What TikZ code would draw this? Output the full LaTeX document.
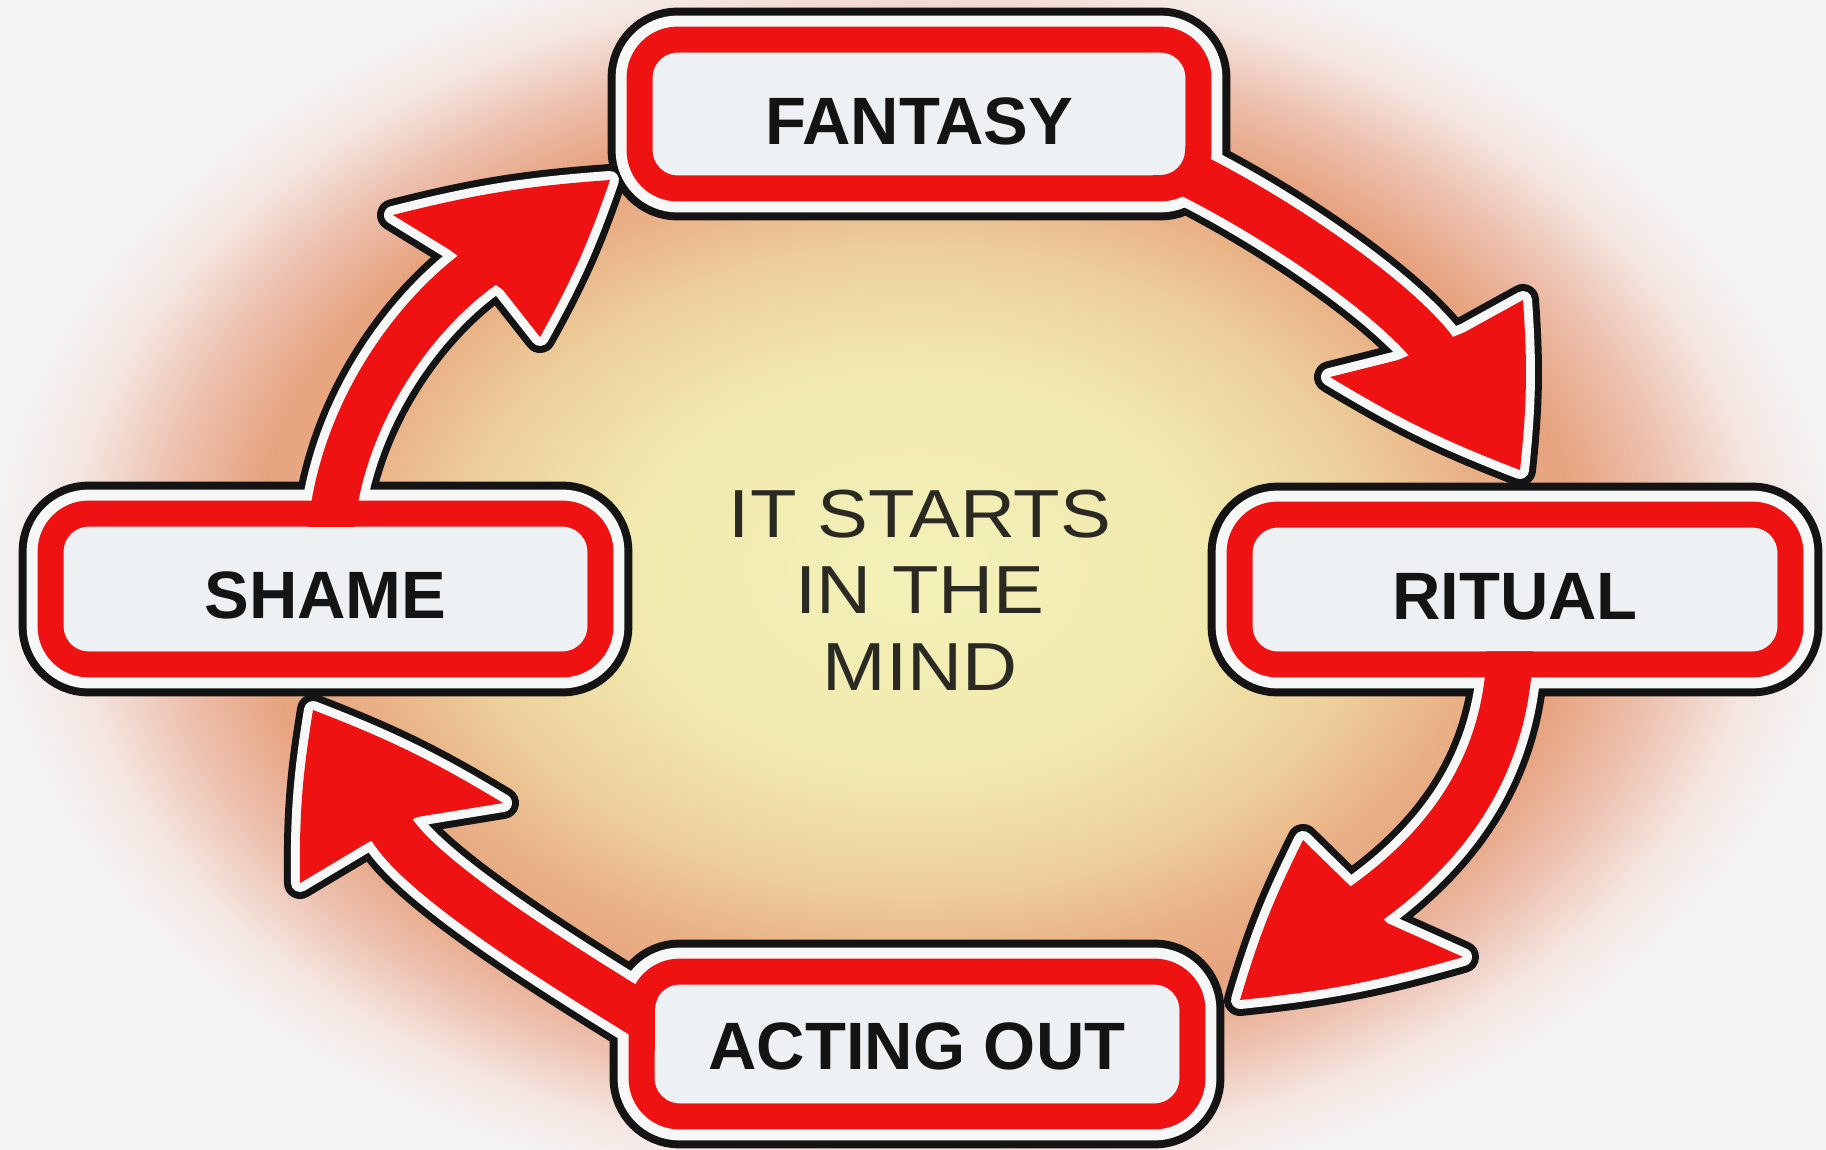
\documentclass[tikz,border=0pt]{standalone}
\usepackage{fontspec}
\setmainfont{Liberation Sans}
\newfontfamily\midfont[FakeStretch=1.12]{Liberation Sans}
\usetikzlibrary{calc}
\definecolor{cred}{HTML}{EE1212}
\definecolor{cblk}{HTML}{141414}
\definecolor{cwht}{HTML}{F6F8F8}
\definecolor{cfill}{HTML}{EEF1F3}
\definecolor{cbg}{HTML}{F4F3F3}
\definecolor{cmid}{HTML}{2A2A22}
\definecolor{gA}{HTML}{F3F1B9}
\definecolor{gB}{HTML}{F1E9AE}
\definecolor{gC}{HTML}{EDCF9B}
\definecolor{gD}{HTML}{E9B086}
\definecolor{gE}{HTML}{E6A37F}
\definecolor{gF}{HTML}{EDC0AE}
\definecolor{gG}{HTML}{F4E6E1}
\pgfdeclareradialshading{glow}{\pgfpoint{0bp}{0bp}}{color(0bp)=(gA); color(8bp)=(gB); color(12.5bp)=(gC); color(15.5bp)=(gD); color(18bp)=(gE); color(20.5bp)=(gF); color(23bp)=(gG); color(25bp)=(cbg); color(50bp)=(cbg)}
\pgfdeclarelayer{bg}
\pgfdeclarelayer{blk}
\pgfdeclarelayer{wht}
\pgfdeclarelayer{rd}
\pgfsetlayers{bg,blk,wht,rd,main}
\tikzset{
  boxnode/.style={rectangle, rounded corners=12.5pt, fill=cfill, inner sep=0pt,
    font=\bfseries\fontsize{33.5}{36}\selectfont, text=cblk, text depth=0pt},
  bandblk/.style={draw=cblk, line width=32pt, rounded corners=19pt},
  bandwht/.style={draw=cwht, line width=24pt, rounded corners=19pt},
  bandred/.style={draw=cred, line width=13pt, rounded corners=19pt},
  shaftblk/.style={draw=cblk, line width=39pt},
  shaftwht/.style={draw=cwht, line width=32pt},
  shaftred/.style={draw=cred, line width=23pt},
  headblk/.style={fill=cblk, draw=cblk, line width=16pt, line join=round},
  headwht/.style={fill=cwht, draw=cwht, line width=9pt, line join=round},
  headred/.style={fill=cred},
  midtext/.style={font=\midfont\fontsize{34}{38}\selectfont, text=cmid, anchor=base, inner sep=0pt}
}
\newcommand\cycband[1]{%
  \begin{pgfonlayer}{blk}\draw[bandblk] ($(#1.south west)+(-6.5pt,-6.5pt)$) rectangle ($(#1.north east)+(6.5pt,6.5pt)$);\end{pgfonlayer}
  \begin{pgfonlayer}{wht}\draw[bandwht] ($(#1.south west)+(-6.5pt,-6.5pt)$) rectangle ($(#1.north east)+(6.5pt,6.5pt)$);\end{pgfonlayer}
  \begin{pgfonlayer}{rd}\draw[bandred] ($(#1.south west)+(-6.5pt,-6.5pt)$) rectangle ($(#1.north east)+(6.5pt,6.5pt)$);\end{pgfonlayer}}
% start, control 1, control 2, head base, point inside head
\newcommand\cycshaft[5]{%
  \begin{pgfonlayer}{blk}\draw[shaftblk] #1 .. controls #2 and #3 .. #4 -- #5;\end{pgfonlayer}
  \begin{pgfonlayer}{wht}\draw[shaftwht] #1 .. controls #2 and #3 .. #4 -- #5;\end{pgfonlayer}
  \begin{pgfonlayer}{rd}\draw[shaftred] #1 .. controls #2 and #3 .. #4 -- #5;\end{pgfonlayer}}
% tip, outer barb, outer notch, inner notch, inner barb
\newcommand\cychead[5]{%
  \begin{pgfonlayer}{blk}\filldraw[headblk] #1 to[bend right=5] #2 -- #3 -- #4 -- #5 to[bend right=5] cycle;\end{pgfonlayer}
  \begin{pgfonlayer}{wht}\filldraw[headwht] #1 to[bend right=5] #2 -- #3 -- #4 -- #5 to[bend right=5] cycle;\end{pgfonlayer}
  \begin{pgfonlayer}{rd}\fill[headred] #1 to[bend right=5] #2 -- #3 -- #4 -- #5 to[bend right=5] cycle;\end{pgfonlayer}}
\begin{document}
\begin{tikzpicture}[x=0.5pt,y=-0.5pt]
\useasboundingbox (0,0) rectangle (1826,1150);
\begin{pgfonlayer}{bg}
  \fill[cbg] (0,0) rectangle (1826,1150);
  \shade[shading=glow] (915,570) ellipse [x radius=460pt, y radius=320pt];
\end{pgfonlayer}

% boxes
\node[boxnode, minimum width=266pt, minimum height=61pt, text height=31pt] (fantasy) at (919,114) {FANTASY};
\node[boxnode, minimum width=262pt, minimum height=61.5pt, text height=29.5pt] (ritual) at (1515,589.5) {RITUAL};
\node[boxnode, minimum width=262pt, minimum height=59pt, text height=25pt] (acting) at (917,1044) {ACTING OUT};
\node[boxnode, minimum width=261.5pt, minimum height=62pt, text height=29.5pt] (shame) at (325.5,589) {SHAME};
\cycband{fantasy}
\cycband{ritual}
\cycband{acting}
\cycband{shame}

% centre text
\node[midtext] (mid1) at (920,537) {IT STARTS};
\node[midtext] (mid2) at (920,613) {IN THE};
\node[midtext] (mid3) at (920,690) {MIND};

% arrow 1: fantasy -> ritual
\coordinate (a1s) at (1160,160);
\coordinate (a1e) at (1431,346);
\coordinate (a1x) at (1451,374);
\coordinate (a1t) at (1520,470);
\cycshaft{(a1s)}{(1260,205)}{(1385,290)}{(a1e)}{(a1x)}
\cychead{(a1t)}{(1523,300)}{(1465,332)}{(1398,360)}{(1330,377)}

% arrow 2: ritual -> acting out
\coordinate (a2s) at (1510,640);
\coordinate (a2e) at (1367,903);
\coordinate (a2x) at (1339,924);
\coordinate (a2t) at (1240,1000);
\cycshaft{(a2s)}{(1510,770)}{(1440,850)}{(a2e)}{(a2x)}
\cychead{(a2t)}{(1463,957)}{(1387,923)}{(1347,883)}{(1303,840)}

% arrow 3: acting out -> shame
\coordinate (a3s) at (690,1045);
\coordinate (a3e) at (392,830);
\coordinate (a3x) at (373,801);
\coordinate (a3t) at (313,710);
\cycshaft{(a3s)}{(596,987)}{(430,888)}{(a3e)}{(a3x)}
\cychead{(a3t)}{(300,883)}{(367,843)}{(417,817)}{(503,803)}

% arrow 4: shame -> fantasy
\coordinate (a4s) at (330,540);
\coordinate (a4e) at (477,270);
\coordinate (a4x) at (506,250);
\coordinate (a4t) at (610,180);
\cycshaft{(a4s)}{(338,420)}{(410,320)}{(a4e)}{(a4x)}
\cychead{(a4t)}{(393,215)}{(450,250)}{(503,290)}{(540,337)}
\end{tikzpicture}
\end{document}
